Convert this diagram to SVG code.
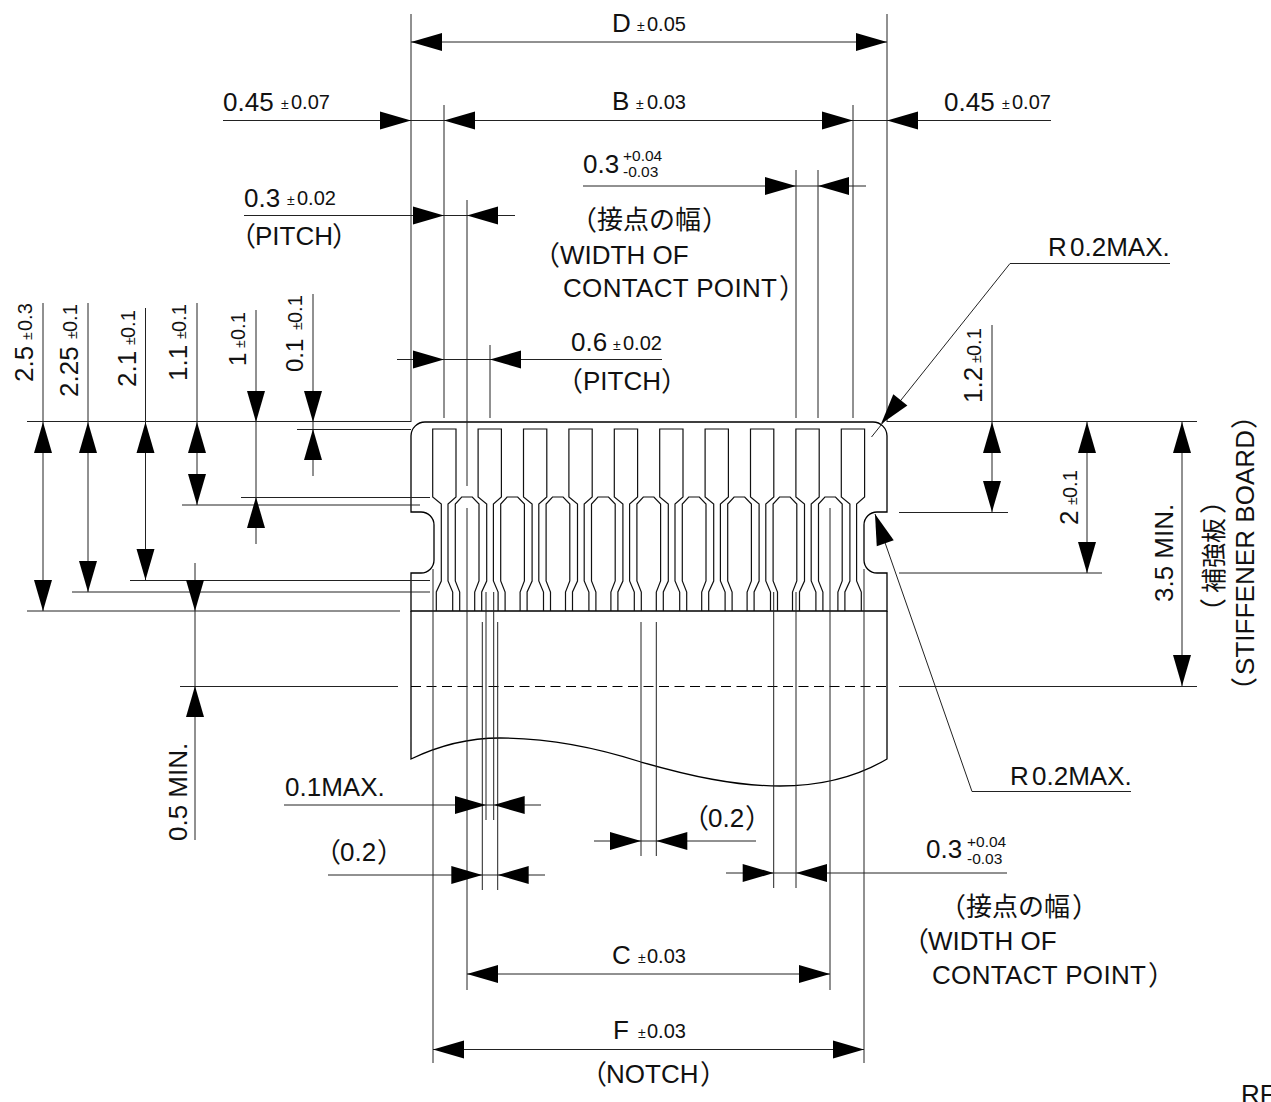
<svg xmlns="http://www.w3.org/2000/svg" width="1271" height="1102" viewBox="0 0 1271 1102">
<style>
text{font-family:"Liberation Sans","Noto Sans CJK JP",sans-serif;fill:#111}
.m{font-size:26px}.t{font-size:20px}.p{font-size:14px}.s{font-size:15.500px}
.j{font-family:"Noto Sans CJK JP","Liberation Sans",sans-serif;font-size:26px}
.k{font-family:"Noto Sans CJK JP","Liberation Sans",sans-serif;font-size:25px}
.q{font-family:"Noto Sans CJK JP","Liberation Sans",sans-serif;font-size:27px}
.b{fill:none;stroke:#000;stroke-width:1.300}
.c{fill:none;stroke:#111;stroke-width:1.200}
.d{fill:none;stroke:#222;stroke-width:1}
.h{fill:none;stroke:#000;stroke-width:1;stroke-dasharray:10 5.500}
.a{fill:#000}
</style>
<defs>
<path id="ah" class="a" d="M0 0L-31 -9V9Z"/>
<path id="pad" d="M436.300 611V592L441.300 581V504L432.700 497V429H456V497L448 504V581L452.700 592V611"/>
<path id="hex" d="M459.700 611V592L455.300 581V504L461.700 497H472.300L479 504V581L474.700 592V611"/>
</defs>
<rect width="1271" height="1102" fill="#fff"/>
<g id="board" class="b">
<path d="M411 611V573H421A13 13 0 0 0 434 560V525A13 13 0 0 0 421 512H411V436A14 14 0 0 1 425 422H873A14 14 0 0 1 887 436V512H877A13 13 0 0 0 864 525V560A13 13 0 0 0 877 573H887V611Z"/>
<path d="M411 611V759C440 745 470 738 500 738C560 738 610 752 641 762C690 776 735 786 780 786C825 786 860 775 887 759V611"/>
</g>
<g id="contacts" class="c">
<use href="#pad"/><use href="#pad" x="45.400"/><use href="#pad" x="90.800"/><use href="#pad" x="136.200"/><use href="#pad" x="181.600"/><use href="#pad" x="227"/><use href="#pad" x="272.400"/><use href="#pad" x="317.800"/><use href="#pad" x="363.200"/><use href="#pad" x="408.600"/>
<use href="#hex"/><use href="#hex" x="45.400"/><use href="#hex" x="90.800"/><use href="#hex" x="136.200"/><use href="#hex" x="181.600"/><use href="#hex" x="227"/><use href="#hex" x="272.400"/><use href="#hex" x="317.800"/><use href="#hex" x="363.200"/>
</g>
<g id="connectors">
<path class="h" d="M411 686.500H888"/>
<path class="d" d="M411 14V422M887 14V422M444 105V418M853 105V418M796 170V418M818 170V418M467 200V486M467 508V990M490 345V418M830 508V990M433 569V1063M864 569V1063M482.300 622V890M486 592V820M493.700 592V820M497.700 622V890M641 622V856M656.300 622V856M773.700 592V888M796 592V888"/>
<path class="d" d="M411 42H887M223 120.500H1051M583 186H866M244 215.500H515M397 359.500H662"/>
<path class="d" d="M27 421.500H411M27 611H400M72 592H430M130 580.500H430M182 505H420M241 497.500H430M297 429.500H411M180 686.500H398M887 421.500H1197M899 512.500H1008M899 573H1102M899 686.500H1197"/>
<path class="d" d="M43 303V611M88 303V592M145.500 308V580M197 303V505M195 563V840M256 310V544M313 294V476M992 325V512M1087 422V573M1182 422V686"/>
<path class="d" d="M1170 263.500H1010L871.500 437M1131 791.500H972L875 514"/>
<path class="d" d="M284 805H541M328 875H545M594 841H756M726 873H1007M467 974H830M433 1049.500H864"/>
<g id="arrows">
<use href="#ah" transform="translate(411 42) rotate(180)"/><use href="#ah" transform="translate(887 42)"/>
<use href="#ah" transform="translate(411 120.500)"/><use href="#ah" transform="translate(444 120.500) rotate(180)"/><use href="#ah" transform="translate(853 120.500)"/><use href="#ah" transform="translate(887 120.500) rotate(180)"/>
<use href="#ah" transform="translate(796 186)"/><use href="#ah" transform="translate(818 186) rotate(180)"/>
<use href="#ah" transform="translate(444 215.500)"/><use href="#ah" transform="translate(467 215.500) rotate(180)"/>
<use href="#ah" transform="translate(444 359.500)"/><use href="#ah" transform="translate(490 359.500) rotate(180)"/>
<use href="#ah" transform="translate(43 422) rotate(-90)"/><use href="#ah" transform="translate(43 611) rotate(90)"/>
<use href="#ah" transform="translate(88 422) rotate(-90)"/><use href="#ah" transform="translate(88 592) rotate(90)"/>
<use href="#ah" transform="translate(145.500 422) rotate(-90)"/><use href="#ah" transform="translate(145.500 580) rotate(90)"/>
<use href="#ah" transform="translate(197 422) rotate(-90)"/><use href="#ah" transform="translate(197 505) rotate(90)"/>
<use href="#ah" transform="translate(195 611) rotate(90)"/><use href="#ah" transform="translate(195 686) rotate(-90)"/>
<use href="#ah" transform="translate(256 422) rotate(90)"/><use href="#ah" transform="translate(256 497) rotate(-90)"/>
<use href="#ah" transform="translate(313 422) rotate(90)"/><use href="#ah" transform="translate(313 429) rotate(-90)"/>
<use href="#ah" transform="translate(992 422) rotate(-90)"/><use href="#ah" transform="translate(992 512) rotate(90)"/>
<use href="#ah" transform="translate(1087 422) rotate(-90)"/><use href="#ah" transform="translate(1087 573) rotate(90)"/>
<use href="#ah" transform="translate(1182 422) rotate(-90)"/><use href="#ah" transform="translate(1182 686) rotate(90)"/>
<use href="#ah" transform="translate(881 424) rotate(128.600)"/><use href="#ah" transform="translate(875 514) rotate(-109.300)"/>
<use href="#ah" transform="translate(486 805)"/><use href="#ah" transform="translate(493.700 805) rotate(180)"/>
<use href="#ah" transform="translate(482.300 875)"/><use href="#ah" transform="translate(497.700 875) rotate(180)"/>
<use href="#ah" transform="translate(641 841)"/><use href="#ah" transform="translate(656.300 841) rotate(180)"/>
<use href="#ah" transform="translate(773.700 873)"/><use href="#ah" transform="translate(796 873) rotate(180)"/>
<use href="#ah" transform="translate(467 974) rotate(180)"/><use href="#ah" transform="translate(830 974)"/>
<use href="#ah" transform="translate(433 1049.500) rotate(180)"/><use href="#ah" transform="translate(864 1049.500)"/>
</g>
</g>
<g id="labels">
<text class="m" x="612" y="32">D</text><text class="p" x="637" y="31">±</text><text class="t" x="647" y="31">0.05</text>
<text class="m" x="612" y="110">B</text><text class="p" x="636" y="109">±</text><text class="t" x="647" y="109">0.03</text>
<text class="m" x="223" y="111">0.45</text><text class="p" x="281" y="109">±</text><text class="t" x="291" y="109">0.07</text>
<text class="m" x="944" y="111">0.45</text><text class="p" x="1002" y="109">±</text><text class="t" x="1012" y="109">0.07</text>
<text class="m" x="583" y="173">0.3</text><text class="s" x="623" y="161">+0.04</text><text class="s" x="623" y="177">-0.03</text>
<text class="m" x="244" y="207">0.3</text><text class="p" x="287" y="205">±</text><text class="t" x="297" y="205">0.02</text>
<text class="q" x="229" y="246">（</text><text class="m" x="255" y="245">PITCH</text><text class="q" x="332" y="246">）</text>
<text class="q" x="570" y="230">（</text><text class="j" x="597" y="229">接点の幅</text><text class="q" x="702" y="230">）</text>
<text class="q" x="533" y="265">（</text><text class="m" x="560" y="264">WIDTH OF</text>
<text class="m" x="563" y="297" textLength="214">CONTACT POINT</text><text class="q" x="779" y="298">）</text>
<text class="m" x="571" y="351">0.6</text><text class="p" x="613" y="350">±</text><text class="t" x="623" y="350">0.02</text>
<text class="q" x="556" y="391">（</text><text class="m" x="583" y="390">PITCH</text><text class="q" x="661" y="391">）</text>
<text class="m" x="1048" y="256">R</text><text class="m" x="1070" y="256">0.2MAX.</text>
<text class="m" x="1010" y="785">R</text><text class="m" x="1032" y="785">0.2MAX.</text>
<text class="m" x="285" y="796">0.1MAX.</text>
<text class="q" x="314" y="862">（</text><text class="m" x="340" y="861">0.2</text><text class="q" x="377" y="862">）</text>
<text class="q" x="682" y="828">（</text><text class="m" x="708" y="827">0.2</text><text class="q" x="745" y="828">）</text>
<text class="m" x="926" y="858">0.3</text><text class="s" x="967" y="847">+0.04</text><text class="s" x="967" y="864">-0.03</text>
<text class="q" x="939" y="917">（</text><text class="j" x="966" y="916">接点の幅</text><text class="q" x="1072" y="917">）</text>
<text class="q" x="902" y="951">（</text><text class="m" x="928" y="950">WIDTH OF</text>
<text class="m" x="932" y="984" textLength="214">CONTACT POINT</text><text class="q" x="1148" y="985">）</text>
<text class="m" x="612" y="964">C</text><text class="p" x="638" y="963">±</text><text class="t" x="647" y="963">0.03</text>
<text class="m" x="613" y="1039">F</text><text class="p" x="638" y="1038">±</text><text class="t" x="647" y="1038">0.03</text>
<text class="q" x="580" y="1084">（</text><text class="m" x="606" y="1083">NOTCH</text><text class="q" x="700" y="1084">）</text>
<text class="m" x="1241" y="1103">RF</text>
<g transform="translate(33 382) rotate(-90)"><text class="m">2.5</text><text class="p" x="42" y="-1">±</text><text class="t" x="51" y="-1">0.3</text></g>
<g transform="translate(78 397) rotate(-90)"><text class="m">2.25</text><text class="p" x="58" y="-1">±</text><text class="t" x="65" y="-1">0.1</text></g>
<g transform="translate(136 387) rotate(-90)"><text class="m">2.1</text><text class="p" x="42" y="-1">±</text><text class="t" x="49" y="-1">0.1</text></g>
<g transform="translate(187 381) rotate(-90)"><text class="m">1.1</text><text class="p" x="42" y="-1">±</text><text class="t" x="49" y="-1">0.1</text></g>
<g transform="translate(246 366) rotate(-90)"><text class="m" style="font-size:24px">1</text><text class="p" x="18" y="-1">±</text><text class="t" x="26" y="-1">0.1</text></g>
<g transform="translate(303 372) rotate(-90)"><text class="m" style="font-size:24px">0.1</text><text class="p" x="42" y="-1">±</text><text class="t" x="49" y="-1">0.1</text></g>
<g transform="translate(982 403) rotate(-90)"><text class="m">1.2</text><text class="p" x="40" y="-1">±</text><text class="t" x="47" y="-1">0.1</text></g>
<g transform="translate(1078 525) rotate(-90)"><text class="m">2</text><text class="p" x="20" y="-1">±</text><text class="t" x="27" y="-1">0.1</text></g>
<text class="m" transform="translate(1173 602) rotate(-90)">3.5 MIN.</text>
<text class="m" transform="translate(187 841) rotate(-90)">0.5 MIN.</text>
<g transform="translate(1223 593) rotate(-90)"><text class="q" x="-32">（</text><text class="k">補強板</text><text class="q" x="79">）</text></g>
<g transform="translate(1254 675) rotate(-90)"><text class="q" x="-29">（</text><text class="m" textLength="245">STIFFENER BOARD</text><text class="q" x="246">）</text></g>
</g>
</svg>
